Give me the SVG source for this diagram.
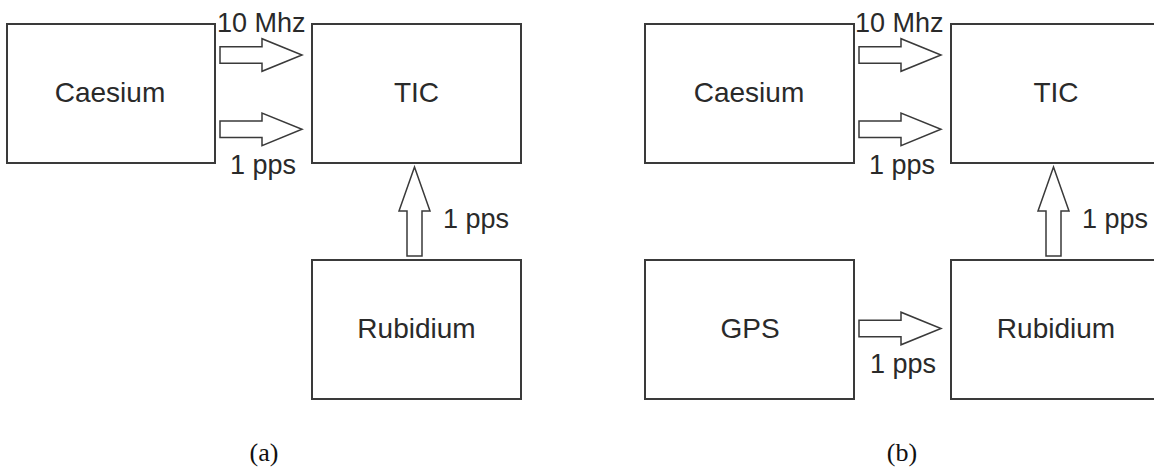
<svg xmlns="http://www.w3.org/2000/svg" xmlns:xlink="http://www.w3.org/1999/xlink" width="1154" height="468" viewBox="0 0 1154 468">
  <style>
    .box { fill: #ffffff; stroke: #3a3a3a; stroke-width: 2; }
    .arrow { fill: #ffffff; stroke: #3a3a3a; stroke-width: 1.5; stroke-linejoin: miter; }
    .lbl { font-family: "Liberation Sans", Arial, sans-serif; font-size: 27px; fill: #2a2a2a; }
    .node { font-size: 28px; text-anchor: middle; }
    .cap { font-family: "Liberation Serif", "Times New Roman", serif; font-size: 26px; fill: #111; text-anchor: middle; }
  </style>
  <defs>
    <path id="harrow" class="arrow" d="M0,-8.3 H42 V-16.3 L82,0 L42,16.3 V8.3 H0 Z"/>
    <path id="varrow" class="arrow" d="M-7.5,0 V-45 H-15.5 L0,-89 L15.5,-45 H7.5 V0 Z"/>
  </defs>
  <rect width="1154" height="468" fill="#ffffff"/>

  <!-- Diagram (a) -->
  <g id="a-caesium">
    <rect class="box" x="7" y="24" width="208" height="139"/>
    <text class="lbl node" x="110" y="102">Caesium</text>
  </g>
  <g id="a-tic">
    <rect class="box" x="312" y="24" width="209" height="139"/>
    <text class="lbl node" x="416.5" y="102">TIC</text>
  </g>
  <g id="a-rubidium">
    <rect class="box" x="312" y="260" width="209" height="139"/>
    <text class="lbl node" x="416.5" y="338">Rubidium</text>
  </g>

  <!-- Diagram (b) -->
  <g id="b-caesium">
    <rect class="box" x="645" y="24" width="209" height="139"/>
    <text class="lbl node" x="749" y="102">Caesium</text>
  </g>
  <g id="b-tic">
    <rect class="box" x="951" y="24" width="209" height="139"/>
    <text class="lbl node" x="1056" y="102">TIC</text>
  </g>
  <g id="b-gps">
    <rect class="box" x="645" y="260" width="209" height="139"/>
    <text class="lbl node" x="750" y="338">GPS</text>
  </g>
  <g id="b-rubidium">
    <rect class="box" x="951" y="260" width="209" height="139"/>
    <text class="lbl node" x="1056" y="338">Rubidium</text>
  </g>

  <g id="connectors">
    <!-- (a) -->
    <use xlink:href="#harrow" href="#harrow" transform="translate(220,55)"/>
    <use xlink:href="#harrow" href="#harrow" transform="translate(220,129.3)"/>
    <use xlink:href="#varrow" href="#varrow" transform="translate(414.5,256)"/>
    <text class="lbl" x="217" y="32">10 Mhz</text>
    <text class="lbl" x="230" y="174">1 pps</text>
    <text class="lbl" x="443" y="228">1 pps</text>
    <!-- (b) -->
    <use xlink:href="#harrow" href="#harrow" transform="translate(859,55)"/>
    <use xlink:href="#harrow" href="#harrow" transform="translate(859,129.3)"/>
    <use xlink:href="#varrow" href="#varrow" transform="translate(1053.5,256)"/>
    <use xlink:href="#harrow" href="#harrow" transform="translate(859,328.5)"/>
    <text class="lbl" x="855" y="32">10 Mhz</text>
    <text class="lbl" x="869" y="174">1 pps</text>
    <text class="lbl" x="1082" y="228">1 pps</text>
    <text class="lbl" x="870" y="373">1 pps</text>
  </g>

  <text class="cap" x="264" y="461">(a)</text>
  <text class="cap" x="902" y="461">(b)</text>
</svg>
